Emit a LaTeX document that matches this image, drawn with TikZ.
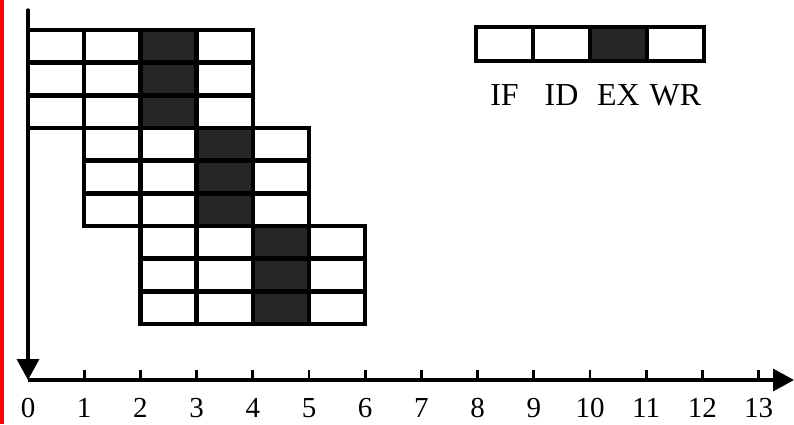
\documentclass[tikz,border=0pt]{standalone}
\usepackage{fontspec}
\setmainfont{Liberation Serif}
\usetikzlibrary{arrows.meta}
\begin{document}
\begin{tikzpicture}[x=1pt,y=-1pt,
  cell/.style={draw=black,line width=4.4pt,minimum width=56.2pt,minimum height=32.7pt,inner sep=0pt,outer sep=0pt,fill=white},
  excell/.style={cell,fill=black!85},
  axis/.style={line width=3.4pt},
  tick/.style={line width=2.8pt},
  ticklab/.style={font=\fontsize{29}{30}\selectfont,inner sep=0pt},
  leglab/.style={font=\fontsize{32}{34}\selectfont,inner sep=0pt}]
\useasboundingbox (0,0) rectangle (794,424);
\fill[red] (0,0) rectangle (3.5,424);
% pipeline cells
\foreach \g in {0,1,2}{
  \foreach \r in {0,1,2}{
    \foreach \k in {0,1,2,3}{
      \pgfmathsetmacro{\cx}{28+56.2*(\g+\k)+28.1}
      \pgfmathsetmacro{\cy}{30+98*\g+32.67*\r+16.33}
      \ifnum\k=2
        \node[excell] (c-\g-\r-\k) at (\cx,\cy) {};
      \else
        \node[cell] (c-\g-\r-\k) at (\cx,\cy) {};
      \fi
    }
  }
}
% legend
\foreach \k/\t in {0/IF,1/ID,2/EX,3/WR}{
  \pgfmathsetmacro{\lx}{476+57*\k+28.5}
  \ifnum\k=2
    \node[excell,minimum width=57pt,minimum height=34pt] (l-\k) at (\lx,44) {};
  \else
    \node[cell,minimum width=57pt,minimum height=34pt] (l-\k) at (\lx,44) {};
  \fi
  \node[leglab] (lt-\k) at (\lx,95) {\t};
}
% axes
\coordinate (top) at (28,10);
\coordinate (origin) at (28,380);
\coordinate (xend) at (794,380);
\draw[axis,line cap=round,-{Triangle[length=21pt,width=22pt]}] (top) -- (origin);
\draw[axis,-{Triangle[length=21pt,width=22pt]}] (origin) -- (xend);
\foreach \i in {0,...,13}{
  \pgfmathsetmacro{\tx}{28+56.2*\i}
  \ifnum\i>0
    \draw[tick] (\tx,380) -- (\tx,370);
  \fi
  \node[ticklab] (t-\i) at (\tx,408) {\i};
}
\end{tikzpicture}
\end{document}
